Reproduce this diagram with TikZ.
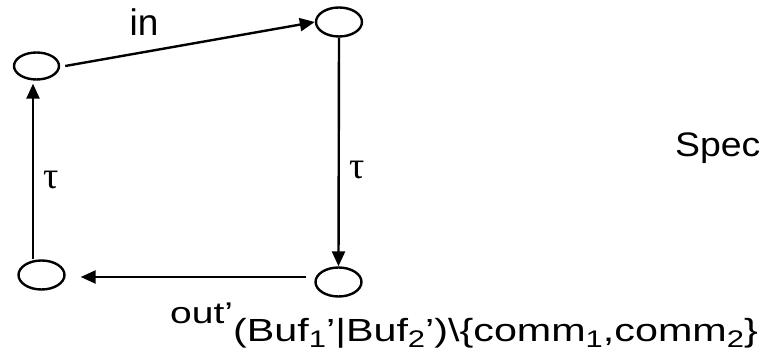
\documentclass[tikz,border=0pt]{standalone}
\usepackage{fontspec}
\usepackage{graphicx}
\setmainfont{Liberation Sans}
\newfontfamily\serifgr{Liberation Serif}
\usetikzlibrary{shapes.geometric,arrows.meta,calc}
\newcommand{\lowsub}[1]{\raisebox{-6pt}{\fontsize{24}{24}\selectfont #1}}
\begin{document}
\begin{tikzpicture}[x=1pt,y=-1pt,
  state/.style={draw,ellipse,line width=2.4pt,minimum width=45pt,minimum height=27pt,inner sep=0pt},
  tr/.style={draw,line width=2.4pt,-{Triangle[length=15pt,width=13pt]}},
  lbl/.style={inner sep=0pt,anchor=base west},
  taul/.style={inner sep=0pt,font=\serifgr\fontsize{38}{38}\selectfont}]
\useasboundingbox (0,0) rectangle (761,352);
\node[state] (A) at (36.5,66) {};
\node[state,minimum width=46pt,minimum height=29pt] (B) at (339,22) {};
\node[state,minimum width=46pt,minimum height=29pt] (C) at (338.5,282) {};
\node[state,minimum width=46pt,minimum height=29pt] (D) at (41.5,275) {};
\draw[tr] ([xshift=5pt]A.east) -- (B.west);
\draw[tr] (B.south) -- (C.north);
\draw[tr] ([xshift=-8pt,yshift=5pt]C.west) -- ([xshift=15pt,yshift=-2pt]D.east);
\draw[tr] ([xshift=-8.5pt]D.north) -- ([xshift=-3.5pt,yshift=-3pt]A.south);
\node[lbl] (in) at (129.5,36) {\fontsize{37}{37}\selectfont in};
\node[taul] (t1) at (51,180) {τ};
\node[taul] (t2) at (357,170) {τ};
\node[lbl] (spec) at (675,157) {\scalebox{1.1}[1]{\fontsize{34}{34}\selectfont Spec}};
\node[lbl] (out) at (170,324) {\scalebox{1.3}[1]{\fontsize{30}{30}\selectfont out’}};
\node[lbl] (buf) at (233,342) {\scalebox{1.29}[1]{\fontsize{32}{32}\selectfont (Buf\lowsub{1}’|Buf\lowsub{2}’)\textbackslash\{comm\lowsub{1},comm\lowsub{2}\}}};
\end{tikzpicture}
\end{document}
